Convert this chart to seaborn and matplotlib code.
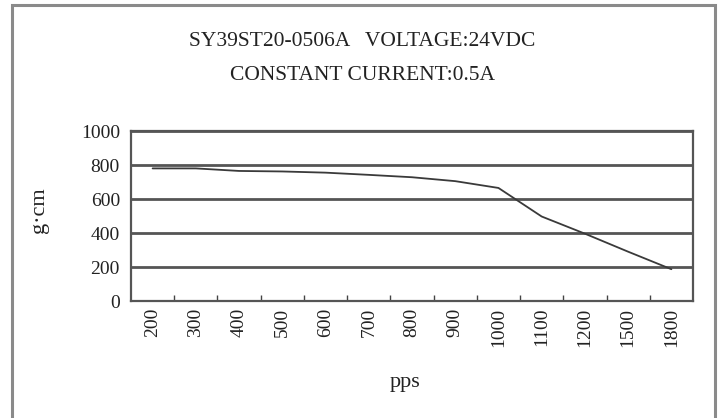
import matplotlib
matplotlib.use("Agg")
import matplotlib.pyplot as plt
from matplotlib.patches import Rectangle
from matplotlib.ticker import FixedLocator
import seaborn as sns
import pandas as pd

pps_labels = ["200", "300", "400", "500", "600", "700", "800", "900",
              "1000", "1100", "1200", "1500", "1800"]
torque = [780, 780, 765, 762, 755, 742, 728, 705, 665, 497, 396, 290, 187]
y_ticks = [0, 200, 400, 600, 800, 1000]
title_lines = ["SY39ST20-0506A   VOLTAGE:24VDC", "CONSTANT CURRENT:0.5A"]

df = pd.DataFrame({"pps": pps_labels, "torque": torque})

sns.set_theme(style="white")
plt.rcParams["font.family"] = ["Liberation Serif", "DejaVu Serif"]

fig = plt.figure(figsize=(7.25, 4.18), dpi=100)
fig.patch.set_facecolor("white")
# outer frame
fig.patches.append(Rectangle((12 / 725, -0.05), (715 - 12) / 725, 1 - 5 / 418 + 0.05,
                             transform=fig.transFigure, fill=False,
                             edgecolor="#8a8a8a", linewidth=2.2))

ax = fig.add_axes([131 / 725, 1 - 301 / 418, (693 - 131) / 725, (301 - 131) / 418])
sns.lineplot(data=df, x="pps", y="torque", ax=ax, color="#3a3a3a", linewidth=1.3,
             sort=False)

n = len(pps_labels)
ax.set_xlim(-0.5, n - 0.5)
ax.set_ylim(0, 1000)
ax.set_yticks(y_ticks)
ax.set_yticklabels([str(v) for v in y_ticks], fontsize=14, color="#222222")
ax.set_xticks(range(n))
ax.set_xticklabels(pps_labels, rotation=90, fontsize=14, color="#222222")
ax.tick_params(axis="x", which="major", length=0, pad=5)
ax.tick_params(axis="y", which="major", length=0, pad=8)
ax.xaxis.set_minor_locator(FixedLocator([i + 0.5 for i in range(n - 1)]))
ax.tick_params(axis="x", which="minor", direction="in", length=4, width=1,
               color="#444444", bottom=True)

for v in y_ticks[1:]:
    ax.axhline(v, color="#555555", linewidth=2.0, zorder=0)
for side in ["left", "right", "top", "bottom"]:
    ax.spines[side].set_visible(True)
    ax.spines[side].set_color("#555555")
    ax.spines[side].set_linewidth(1.6)

ax.set_xlabel("pps", fontsize=16, color="#222222")
ax.set_ylabel("g·cm", fontsize=16, color="#222222")
ax.xaxis.set_label_coords((405 - 131) / 562, (301 - 383) / 170)
ax.yaxis.set_label_coords((40 - 131) / 562, (301 - 210) / 170)
ax.xaxis.label.set_va("center")
ax.yaxis.label.set_va("center")

fig.text(0.5, 1 - 42 / 418, title_lines[0], ha="center", va="center",
         fontsize=15.5, color="#222222")
fig.text(0.5, 1 - 75 / 418, title_lines[1], ha="center", va="center",
         fontsize=15.5, color="#222222")

fig.savefig("out.png", dpi=100, facecolor="white")
